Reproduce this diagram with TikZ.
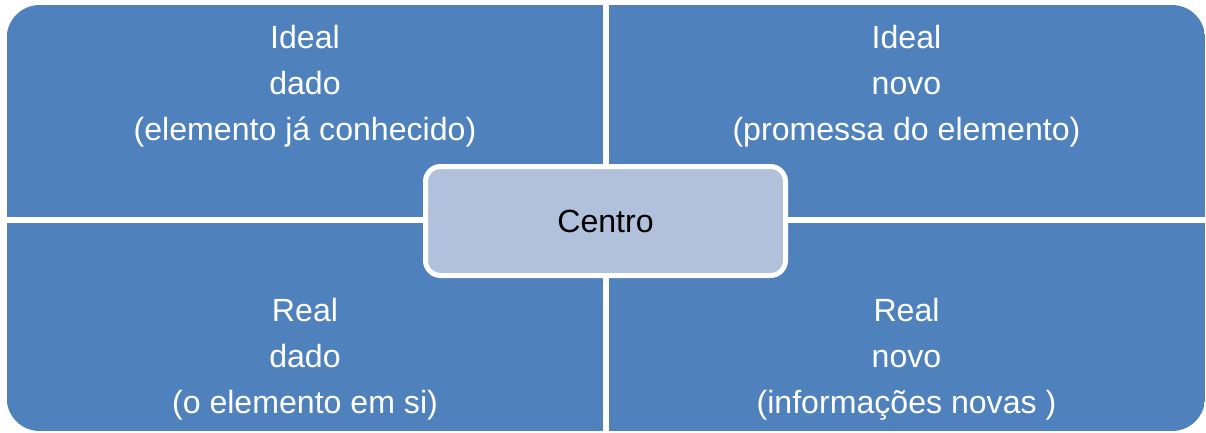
\documentclass[tikz,border=0pt]{standalone}
\usepackage{fontspec}
\setmainfont{Liberation Sans}
\definecolor{quadblue}{HTML}{4F81BD}
\definecolor{centrefill}{HTML}{B1C1DC}
\begin{document}
\begin{tikzpicture}[x=1pt,y=-1pt,
  quad/.style={fill=quadblue},
  qtext/.style={anchor=base,inner sep=0pt,text=white,font=\fontsize{32.1}{46}\selectfont},
  centrebox/.style={draw=white,line width=5pt,fill=centrefill,rounded corners=15pt,
    minimum width=360pt,minimum height=109pt,inner sep=0pt,
    font=\fontsize{32.1}{38}\selectfont,text=black}]
\useasboundingbox (0,0) rectangle (1206,432);
% four quadrants, rounded only on the outer corners
\begin{scope}
  \clip[rounded corners=33pt] (6.7,5) rectangle (1205,431);
  \fill[quad] (6.7,5) rectangle (603.3,216.7);
  \fill[quad] (608.7,5) rectangle (1205,216.7);
  \fill[quad] (6.7,223.3) rectangle (603.3,431);
  \fill[quad] (608.7,223.3) rectangle (1205,431);
\end{scope}
% top left
\node[qtext] (tl1) at (305,48.3) {Ideal};
\node[qtext] (tl2) at (305,94.3) {dado};
\node[qtext] (tl3) at (305,140.3) {(elemento já conhecido)};
% top right
\node[qtext] (tr1) at (906.5,48.3) {Ideal};
\node[qtext] (tr2) at (906.5,94.3) {novo};
\node[qtext] (tr3) at (906.5,140.3) {(promessa do elemento)};
% bottom left
\node[qtext] (bl1) at (305,321.7) {Real};
\node[qtext] (bl2) at (305,367.5) {dado};
\node[qtext] (bl3) at (305,413.5) {(o elemento em si)};
% bottom right
\node[qtext] (br1) at (906.5,321.7) {Real};
\node[qtext] (br2) at (906.5,367.5) {novo};
\node[qtext] (br3) at (906.5,413.5) {(informações novas )};
% centre
\node[centrebox] (centro) at (605.5,221) {Centro};
\end{tikzpicture}
\end{document}
